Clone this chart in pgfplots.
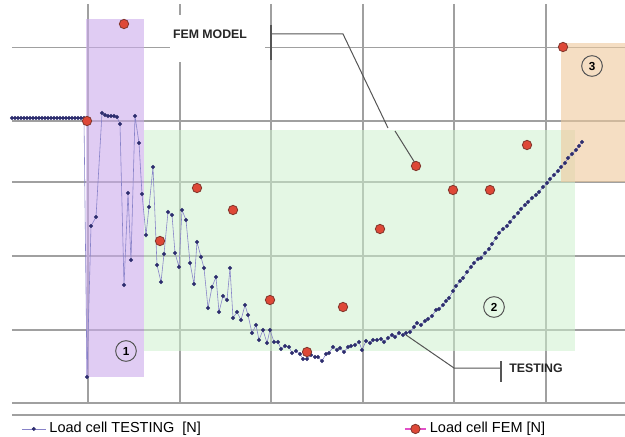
\documentclass[border=0pt]{standalone}
\usepackage{pgfplots}
\pgfplotsset{compat=1.18}
\usepackage{fontspec}
\setmainfont{Liberation Sans}
\definecolor{gridgray}{RGB}{160,160,160}
\definecolor{purplereg}{RGB}{203,170,235}
\definecolor{greenreg}{RGB}{205,240,205}
\definecolor{orangereg}{RGB}{238,200,155}
\definecolor{navy}{RGB}{45,45,110}
\definecolor{testline}{RGB}{135,130,200}
\definecolor{femfill}{RGB}{222,72,55}
\definecolor{femdraw}{RGB}{130,55,45}
\definecolor{leader}{RGB}{85,85,85}
\definecolor{legmag}{RGB}{225,80,200}
\pgfplotsset{
  testleg/.style={legend image code/.code={\draw[##1, mark repeat=2, mark phase=2] plot coordinates {(0pt,0pt) (7.2pt,0pt) (14.4pt,0pt)};}},
  femleg/.style={legend image code/.code={\draw[legmag, line width=0.8pt] (0pt,0pt) -- (12.6pt,0pt);
    \draw[##1, mark repeat=2, mark phase=2] plot coordinates {(0pt,0pt) (6.3pt,0pt) (12.6pt,0pt)};}},
}
\begin{document}
\begin{tikzpicture}
\begin{axis}[
  scale only axis, width=367.8pt, height=239.4pt,
  xmin=12, xmax=625, ymin=4, ymax=403, y dir=reverse,
  xtick={88,180,271,363,454,546}, ytick={47.7,121,182,256,330,403},
  xticklabels={}, yticklabels={},
  tick label style={inner sep=0pt, outer sep=0pt},
  grid=major, major grid style={draw=gridgray, line width=0.7pt},
  axis line style={draw=none}, tick style={draw=none},
  clip=false,
  legend columns=2,
  legend style={at={(0.015,-0.065)}, anchor=west, draw=none, fill=none,
    inner sep=0pt, font=\fontsize{8.7}{10}\selectfont,
    /tikz/every even column/.append style={column sep=120pt}},
]
% shaded regions
\addplot[draw=none, fill=purplereg, fill opacity=0.6, forget plot]
  coordinates {(86,19) (144,19) (144,377) (86,377)} -- cycle;
\addplot[draw=none, fill=greenreg, fill opacity=0.55, forget plot]
  coordinates {(144,130) (575,130) (575,351) (144,351)} -- cycle;
\addplot[draw=none, fill=orangereg, fill opacity=0.6, forget plot]
  coordinates {(561,43) (625,43) (625,182) (561,182)} -- cycle;
% white label background
\fill[white] (axis cs:170,15) rectangle (axis cs:265,62);
% leader lines
\draw[leader, line width=0.7pt] (axis cs:271,25) -- (axis cs:271,60);
\draw[leader, line width=0.6pt] (axis cs:271,34) -- (axis cs:343,34) -- (axis cs:388,128);
\draw[leader, line width=0.6pt] (axis cs:395,131) -- (axis cs:415,163);
\draw[leader, line width=0.6pt] (axis cs:406,335) -- (axis cs:454,368) -- (axis cs:501,368);
\draw[leader, line width=0.7pt] (axis cs:501,361) -- (axis cs:501,382);
% legend separator
\draw[gridgray, line width=0.7pt] (axis cs:12,415) -- (axis cs:625,415);

\addplot[testline, line width=0.35pt, mark=*, mark size=1.0pt,
  mark options={draw=navy, fill=navy}, testleg]
coordinates {
(12,118) (15,118) (18,118) (21,118) (24,118) (27,118) (30,118) (33,118) (36,118)
(39,118) (42,118) (45,118) (48,118) (51,118) (54,118) (57,118) (60,118) (63,118)
(66,118) (69,118) (72,118) (75,118) (78,118) (81,118) (84,118)
(87,377) (91,226) (96,217) (102,113) (105,115) (108,116) (111,116) (114,116)
(117,117) (120,124) (124,285) (128,193) (131,260) (135,116) (139,143) (142,194)
(146,235) (149,207) (153,167) (157,265) (161,282) (164,254) (168,212) (172,215)
(175,253) (179,267) (182,210) (186,220) (190,263) (194,284) (197,242) (201,257)
(204,268) (208,308) (212,287) (216,277) (219,312) (223,296) (227,300) (230,268)
(233,318) (237,312) (241,320) (245,305) (248,315) (252,333) (256,325) (259,340)
(263,330) (267,343) (270,330) (274,342) (278,342) (281,349) (285,346) (289,347)
(292,353) (296,351) (300,354) (303,359) (307,359) (311,355) (315,357) (318,357)
(322,361) (326,354) (329,353) (333,347) (337,350) (340,348) (344,352) (348,347)
(351,346) (355,345) (359,342) (362,350) (366,341) (370,343) (373,340) (377,340)
(381,339) (384,342) (388,338) (392,335) (395,337) (399,333) (403,335) (406,333)
(410,332) (414,327) (417,323) (421,325) (425,321) (428,319) (432,316) (436,310)
(439,309) (443,305) (446,301) (449,298) (453,291) (456,286) (460,281) (463,278)
(467,272) (471,267) (474,263) (478,259) (481,258) (485,253) (489,249) (492,244)
(496,238) (499,233) (503,229) (507,226) (510,222) (514,217) (518,213) (521,209)
(525,205) (528,202) (532,198) (536,195) (539,192) (543,187) (547,183) (550,179)
(554,175) (558,171) (561,167) (565,163) (568,158) (572,154) (576,150) (579,146)
(582,142)
};
\addlegendentry{Load cell TESTING\ \ [N]}

\addplot[only marks, mark=*, mark size=2.8pt,
  mark options={draw=femdraw, fill=femfill, line width=0.5pt}, femleg]
coordinates {
(87,121) (124,24) (160,241) (197,188) (233,210) (270,300) (307,352)
(343,307) (380,229) (416,166) (453,190) (490,190) (527,145) (563,47)
};
\addlegendentry{Load cell FEM [N]}

% labels
\node[font=\bfseries\fontsize{7.4}{9}\selectfont, text=black!85] at (axis cs:210,34) {FEM MODEL};
\node[font=\bfseries\fontsize{7.4}{9}\selectfont, text=black!85] at (axis cs:536,368) {TESTING};
\node[circle, draw=leader, line width=0.6pt, minimum size=12.4pt, inner sep=0pt,
  font=\bfseries\fontsize{7}{8}\selectfont] at (axis cs:126,351) {1};
\node[circle, draw=leader, line width=0.6pt, minimum size=12.4pt, inner sep=0pt,
  font=\bfseries\fontsize{7}{8}\selectfont] at (axis cs:494,307) {2};
\node[circle, draw=leader, line width=0.6pt, minimum size=12.4pt, inner sep=0pt,
  font=\bfseries\fontsize{7}{8}\selectfont] at (axis cs:592,66) {3};
\coordinate (bbA) at (axis cs:0,0);
\coordinate (bbB) at (axis cs:625,437);
\end{axis}
\pgfresetboundingbox
\path (bbA) rectangle (bbB);
\end{tikzpicture}
\end{document}
